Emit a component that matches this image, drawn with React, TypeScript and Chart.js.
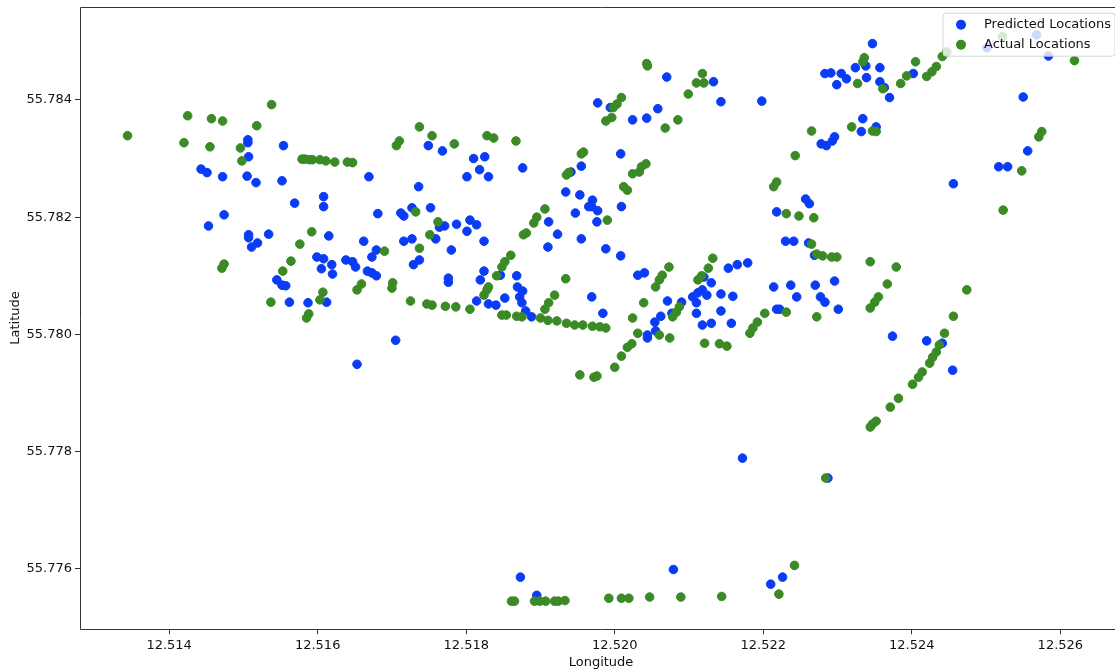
import React, { useEffect, useRef } from "react";
import { Chart, registerables } from "chart.js";
Chart.register(...registerables);

const seriesNames = ["Predicted Locations", "Actual Locations"];
const xTicks = [12.514, 12.516, 12.518, 12.52, 12.522, 12.524, 12.526];
const yTicks = [55.776, 55.778, 55.78, 55.782, 55.784];
const xRange = [12.5128, 12.52683];
const yRange = [55.77497, 55.78559];

const predLon = [
  12.51506, 12.51506, 12.51554, 12.51507, 12.51443, 12.51451, 12.51472, 12.51505, 12.51517, 12.51552,
  12.51569, 12.51608, 12.51608, 12.51474, 12.51453, 12.51507, 12.51507, 12.51519, 12.51511, 12.51534,
  12.51615, 12.51599, 12.51608, 12.51619, 12.51605, 12.5162, 12.51545, 12.51552, 12.51557, 12.51562,
  12.51587, 12.51612, 12.51669, 12.51749, 12.51768, 12.5181, 12.51825, 12.51818, 12.51801, 12.5183,
  12.51876, 12.51955, 12.51941, 12.51736, 12.51681, 12.51712, 12.51716, 12.51727, 12.51752, 12.51934,
  12.51953, 12.51965, 12.51947, 12.51911, 12.51787, 12.51805, 12.51814, 12.51771, 12.51764, 12.51801,
  12.51824, 12.51759, 12.51716, 12.51727, 12.51662, 12.51679, 12.51673, 12.51638, 12.51647, 12.51651,
  12.5178, 12.51737, 12.51729, 12.51667, 12.51673, 12.51679, 12.51776, 12.51776, 12.51824, 12.51819,
  12.51846, 12.51868, 12.51869, 12.51876, 12.51872, 12.51875, 12.51852, 12.51814, 12.5183, 12.5184,
  12.5188, 12.51888, 12.51705, 12.51653, 12.51923, 12.51955, 12.5191, 12.5207, 12.52133, 12.52143,
  12.52198, 12.51977, 12.51994, 12.52024, 12.52043, 12.52058, 12.52283, 12.52291, 12.52299, 12.52008,
  12.5197, 12.51969, 12.51977, 12.51976, 12.52009, 12.52278, 12.52285, 12.52296, 12.52293, 12.52218,
  12.52257, 12.52262, 12.51988, 12.52008, 12.51969, 12.51984, 12.52031, 12.5204, 12.52071, 12.5209,
  12.52062, 12.52054, 12.52077, 12.52105, 12.5211, 12.52112, 12.52118, 12.52124, 12.5213, 12.5212,
  12.5211, 12.52143, 12.52159, 12.52143, 12.52118, 12.5213, 12.52157, 12.52153, 12.52165, 12.52179,
  12.52044, 12.52044, 12.52055, 12.5223, 12.52241, 12.52261, 12.52269, 12.52214, 12.52237, 12.52245,
  12.5227, 12.52277, 12.52283, 12.52296, 12.52301, 12.52218, 12.52222, 12.52347, 12.52324, 12.52338,
  12.52357, 12.52305, 12.52312, 12.52339, 12.52357, 12.52363, 12.5237, 12.52402, 12.52501, 12.52568,
  12.52584, 12.5255, 12.52334, 12.52332, 12.52352, 12.52556, 12.52517, 12.52529, 12.52456,
  12.52374, 12.5242, 12.52441, 12.52455, 12.52172, 12.52287, 12.52226, 12.51873, 12.51895, 12.52079, 12.5221,
];
const predLat = [
  55.78332, 55.78327, 55.78322, 55.78303, 55.78282, 55.78276, 55.78269, 55.7827, 55.78259, 55.78262,
  55.78224, 55.78235, 55.78218, 55.78204, 55.78185, 55.7817, 55.78165, 55.78156, 55.78149, 55.78171,
  55.78168, 55.78132, 55.78129, 55.78119, 55.78112, 55.78103, 55.78093, 55.78084, 55.78083, 55.78055,
  55.78054, 55.78055, 55.78269, 55.78322, 55.78313, 55.783, 55.78303, 55.78281, 55.78269, 55.78269,
  55.78284, 55.78287, 55.78277, 55.78252, 55.78206, 55.78207, 55.78202, 55.78216, 55.78216, 55.78243,
  55.78238, 55.78218, 55.78207, 55.78192, 55.78188, 55.78195, 55.78187, 55.78185, 55.78183, 55.78176,
  55.78159, 55.78163, 55.78159, 55.78163, 55.78159, 55.78144, 55.78132, 55.78127, 55.78124, 55.78115,
  55.78144, 55.78127, 55.78119, 55.78108, 55.78105, 55.781, 55.78096, 55.78089, 55.78108, 55.78093,
  55.78101, 55.781, 55.78081, 55.78074, 55.78064, 55.78054, 55.78062, 55.78057, 55.78052, 55.7805,
  55.7804, 55.7803, 55.7799, 55.77949, 55.78171, 55.78163, 55.78149, 55.78439, 55.78431, 55.78397,
  55.78398, 55.78395, 55.78387, 55.78366, 55.78369, 55.78385, 55.78445, 55.78446, 55.78426, 55.78308,
  55.78229, 55.78218, 55.78211, 55.78192, 55.78218, 55.78325, 55.78322, 55.78337, 55.7833, 55.78209,
  55.78231, 55.78223, 55.78146, 55.78134, 55.78064, 55.78036, 55.78101, 55.78105, 55.78057, 55.78055,
  55.78031, 55.78021, 55.78036, 55.78064, 55.78054, 55.78071, 55.78076, 55.78067, 55.78088, 55.78098,
  55.78036, 55.78069, 55.78065, 55.7804, 55.78016, 55.78019, 55.78019, 55.78113, 55.78119, 55.78122,
  55.77999, 55.77994, 55.78006, 55.78159, 55.78159, 55.78156, 55.78135, 55.78081, 55.78084, 55.78064,
  55.78084, 55.78064, 55.78055, 55.78091, 55.78043, 55.78043, 55.78043, 55.78496, 55.78455, 55.78458,
  55.78455, 55.78445, 55.78436, 55.78438, 55.78431, 55.78421, 55.78404, 55.78445, 55.78489, 55.78511,
  55.78475, 55.78405, 55.78368, 55.78346, 55.78354, 55.78313, 55.78286, 55.78286, 55.78257,
  55.77997, 55.77989, 55.77985, 55.77939, 55.77789, 55.77755, 55.77586, 55.77586, 55.77555, 55.77599, 55.77574,
];

const actLon = [
  12.51344, 12.51425, 12.51457, 12.51472, 12.51538, 12.51518, 12.5142, 12.51455, 12.51496, 12.51498,
  12.51579, 12.51583, 12.51589, 12.51593, 12.51603, 12.51611, 12.51623, 12.5164, 12.51647, 12.51592,
  12.51576, 12.51474, 12.51471, 12.51564, 12.51553, 12.51607, 12.51603, 12.51537, 12.51588, 12.51585,
  12.51737, 12.51754, 12.5171, 12.51706, 12.51784, 12.51828, 12.51837, 12.51867, 12.51958, 12.51955,
  12.51938, 12.51935, 12.51906, 12.51895, 12.51891, 12.51732, 12.51762, 12.51751, 12.51737, 12.5169,
  12.51659, 12.51653, 12.51701, 12.517, 12.51725, 12.51747, 12.51754, 12.51772, 12.51786, 12.51805,
  12.51881, 12.51877, 12.5186, 12.51852, 12.51848, 12.51841, 12.5183, 12.51828, 12.51824, 12.51934,
  12.51919, 12.51911, 12.51906, 12.51848, 12.51854, 12.51868, 12.51875, 12.519, 12.5191, 12.51922,
  12.51935, 12.51946, 12.51957, 12.5197, 12.5198, 12.51988, 12.52043, 12.52044, 12.52118, 12.5211,
  12.5212, 12.52099, 12.52009, 12.52003, 12.51998, 12.51996, 12.51988, 12.52085, 12.52068, 12.52265,
  12.52243, 12.52218, 12.52214, 12.52042, 12.52036, 12.52033, 12.52024, 12.52012, 12.52017, 12.5199,
  12.52231, 12.52248, 12.52268, 12.52265, 12.52272, 12.5228, 12.52292, 12.52299, 12.52132, 12.52126,
  12.52117, 12.52112, 12.52073, 12.52064, 12.5206, 12.52055, 12.52039, 12.52024, 12.52031, 12.52023,
  12.52017, 12.52009, 12.52, 12.52087, 12.52083, 12.52078, 12.5206, 12.52074, 12.52121, 12.52141,
  12.52151, 12.52202, 12.52192, 12.52186, 12.52182, 12.52231, 12.52272, 12.52336, 12.52334, 12.52405,
  12.52393, 12.52385, 12.52361, 12.52327, 12.52433, 12.52427, 12.5242, 12.52441, 12.52522, 12.52619,
  12.52319, 12.52347, 12.52352, 12.52575, 12.52571, 12.52548, 12.52523, 12.52344, 12.52379, 12.52367,
  12.52355, 12.5235, 12.52344, 12.52474, 12.52456, 12.52444, 12.52437, 12.52433, 12.52428, 12.52424,
  12.52414, 12.52409, 12.52401, 12.52382, 12.52371, 12.52352, 12.52347, 12.52344, 12.52284, 12.52242,
  12.51861, 12.51865, 12.51892, 12.51899, 12.51907, 12.51919, 12.51924, 12.51933, 12.51992, 12.52009,
  12.52019, 12.52047, 12.52089, 12.52144, 12.52221, 12.51953, 12.51972, 12.51976, 12.52447,
];
const actLat = [
  55.78339, 55.78373, 55.78368, 55.78364, 55.78392, 55.78356, 55.78327, 55.7832, 55.78318, 55.78296,
  55.78299, 55.78299, 55.78298, 55.78298, 55.78298, 55.78296, 55.78294, 55.78294, 55.78293, 55.78175,
  55.78154, 55.7812, 55.78113, 55.78125, 55.78108, 55.78072, 55.78059, 55.78055, 55.78035, 55.78028,
  55.78354, 55.78339, 55.7833, 55.78322, 55.78325, 55.78339, 55.78335, 55.7833, 55.78311, 55.78308,
  55.78276, 55.78272, 55.78214, 55.782, 55.7819, 55.78209, 55.78192, 55.7817, 55.78147, 55.78142,
  55.78086, 55.78076, 55.78088, 55.78079, 55.78057, 55.78052, 55.7805, 55.78048, 55.78047, 55.78043,
  55.78173, 55.7817, 55.78135, 55.78124, 55.78115, 55.781, 55.78081, 55.78076, 55.78067, 55.78095,
  55.78067, 55.78054, 55.78043, 55.78033, 55.78033, 55.78031, 55.7803, 55.78028, 55.78024, 55.78023,
  55.78019, 55.78016, 55.78016, 55.78014, 55.78013, 55.78011, 55.78462, 55.78458, 55.78445, 55.78429,
  55.78429, 55.7841, 55.78404, 55.78393, 55.78387, 55.7837, 55.78364, 55.78366, 55.78352, 55.78347,
  55.78305, 55.7826, 55.78252, 55.78291, 55.78286, 55.78277, 55.78274, 55.78252, 55.78246, 55.78195,
  55.78206, 55.78202, 55.78199, 55.78154, 55.78137, 55.78134, 55.78132, 55.78132, 55.7813, 55.78113,
  55.781, 55.78093, 55.78115, 55.78101, 55.78093, 55.78081, 55.78054, 55.78028, 55.78002, 55.77984,
  55.77978, 55.77963, 55.77944, 55.78047, 55.78038, 55.7803, 55.77999, 55.77994, 55.77985, 55.77984,
  55.7798, 55.78036, 55.78021, 55.78011, 55.78002, 55.78038, 55.7803, 55.78472, 55.78465, 55.78465,
  55.78441, 55.78428, 55.78419, 55.78428, 55.78457, 55.78448, 55.7844, 55.78474, 55.78508, 55.78467,
  55.78354, 55.78347, 55.78346, 55.78346, 55.78337, 55.78279, 55.78212, 55.78124, 55.78115, 55.78086,
  55.78064, 55.78055, 55.78045, 55.78076, 55.78031, 55.78002, 55.77982, 55.7797, 55.77961, 55.77951,
  55.77936, 55.77927, 55.77915, 55.77891, 55.77876, 55.77852, 55.77847, 55.77842, 55.77755, 55.77606,
  55.77545, 55.77545, 55.77545, 55.77545, 55.77545, 55.77545, 55.77545, 55.77546, 55.7755, 55.7755,
  55.7755, 55.77552, 55.77552, 55.77553, 55.77557, 55.77931, 55.77927, 55.77929, 55.78482,
];

const BLUE = "#0a3cf6";
const GREEN = "#3a8a26";
const FONT = "'DejaVu Sans', sans-serif";

const framePlugin = {
  id: "frame",
  afterDatasetsDraw(chart: any) {
    const { ctx, chartArea: a } = chart;
    ctx.save();
    ctx.strokeStyle = "#333";
    ctx.lineWidth = 1;
    const l = Math.round(a.left) + 0.5;
    const t = Math.round(a.top) + 0.5;
    const b = Math.round(a.bottom) + 0.5;
    const r = Math.round(a.right) + 0.5;
    ctx.beginPath();
    ctx.moveTo(r, t);
    ctx.lineTo(l, t);
    ctx.lineTo(l, b);
    ctx.lineTo(r, b);
    ctx.stroke();
    ctx.restore();
  },
};

const legendPlugin = {
  id: "insideLegend",
  afterDraw(chart: any) {
    const { ctx, chartArea: a } = chart;
    const right = a.right - 7;
    const top = a.top + 6.5;
    const w = 172;
    const h = 43;
    const left = right - w;
    ctx.save();
    ctx.beginPath();
    const rr = 3;
    ctx.moveTo(left + rr, top);
    ctx.lineTo(right - rr, top);
    ctx.quadraticCurveTo(right, top, right, top + rr);
    ctx.lineTo(right, top + h - rr);
    ctx.quadraticCurveTo(right, top + h, right - rr, top + h);
    ctx.lineTo(left + rr, top + h);
    ctx.quadraticCurveTo(left, top + h, left, top + h - rr);
    ctx.lineTo(left, top + rr);
    ctx.quadraticCurveTo(left, top, left + rr, top);
    ctx.closePath();
    ctx.fillStyle = "rgba(255,255,255,0.8)";
    ctx.fill();
    ctx.strokeStyle = "rgba(204,204,204,0.8)";
    ctx.lineWidth = 1;
    ctx.stroke();
    const items = [
      { label: seriesNames[0], color: BLUE },
      { label: seriesNames[1], color: GREEN },
    ];
    items.forEach((it, i) => {
      const cy = top + 11.5 + i * 20;
      ctx.beginPath();
      ctx.arc(left + 18, cy, 5, 0, Math.PI * 2);
      ctx.fillStyle = it.color;
      ctx.fill();
      ctx.fillStyle = "#111";
      ctx.font = "13px " + FONT;
      ctx.textBaseline = "middle";
      ctx.textAlign = "left";
      ctx.fillText(it.label, left + 41, cy);
    });
    ctx.restore();
  },
};

export default function App() {
  const ref = useRef<HTMLCanvasElement | null>(null);
  useEffect(() => {
    if (!ref.current) return;
    const predicted = predLon.map((x, i) => ({ x, y: predLat[i] }));
    const actual = actLon.map((x, i) => ({ x, y: actLat[i] }));
    Chart.defaults.font.family = FONT;
    Chart.defaults.font.size = 13;
    const chart = new Chart(ref.current, {
      type: "scatter",
      data: {
        datasets: [
          {
            label: seriesNames[1],
            data: actual,
            backgroundColor: GREEN,
            borderColor: GREEN,
            borderWidth: 1,
            pointRadius: 4.3,
          },
          {
            label: seriesNames[0],
            data: predicted,
            backgroundColor: BLUE,
            borderColor: BLUE,
            borderWidth: 1,
            pointRadius: 4.3,
          },
        ],
      },
      options: {
        animation: false,
        responsive: false,
        events: [],
        layout: { autoPadding: false, padding: { top: 6.7, left: 0, right: 0, bottom: 0 } },
        plugins: { legend: { display: false }, tooltip: { enabled: false } },
        scales: {
          x: {
            type: "linear",
            min: xRange[0],
            max: xRange[1],
            afterBuildTicks: (s: any) => {
              s.ticks = xTicks.map((v) => ({ value: v }));
            },
            afterFit: (s: any) => {
              s.height = 40.7;
              s.paddingLeft = 0;
              s.paddingRight = 0;
              s.paddingTop = 0;
              s.paddingBottom = 0;
            },
            grid: { display: true, drawOnChartArea: false, drawTicks: true, tickLength: 5, tickColor: "#333", tickWidth: 1 },
            border: { display: false },
            ticks: {
              padding: 4,
              color: "#111",
              font: { size: 13 },
              maxRotation: 0,
              autoSkip: false,
              callback: (v: any) => Number(v).toFixed(3),
            },
            title: { display: true, text: "Longitude", color: "#111", font: { size: 13 }, padding: { top: 0, bottom: 0 } },
          },
          y: {
            type: "linear",
            min: yRange[0],
            max: yRange[1],
            afterBuildTicks: (s: any) => {
              s.ticks = yTicks.map((v) => ({ value: v }));
            },
            afterFit: (s: any) => {
              s.width = 80;
              s.paddingLeft = 0;
              s.paddingRight = 0;
              s.paddingTop = 0;
              s.paddingBottom = 0;
            },
            grid: { display: true, drawOnChartArea: false, drawTicks: true, tickLength: 5, tickColor: "#333", tickWidth: 1 },
            border: { display: false },
            ticks: {
              padding: 3,
              color: "#111",
              font: { size: 13 },
              autoSkip: false,
              callback: (v: any) => Number(v).toFixed(3),
            },
            title: { display: true, text: "Latitude", color: "#111", font: { size: 13 }, padding: { top: 8, bottom: 0 } },
          },
        },
      },
      plugins: [framePlugin, legendPlugin],
    });
    return () => chart.destroy();
  }, []);
  return (
    <div style={{ position: "fixed", left: 0, top: 0, width: 1115, height: 670, overflow: "hidden", background: "#fff" }}>
      <canvas ref={ref} width={1122} height={670} style={{ display: "block" }} />
    </div>
  );
}
